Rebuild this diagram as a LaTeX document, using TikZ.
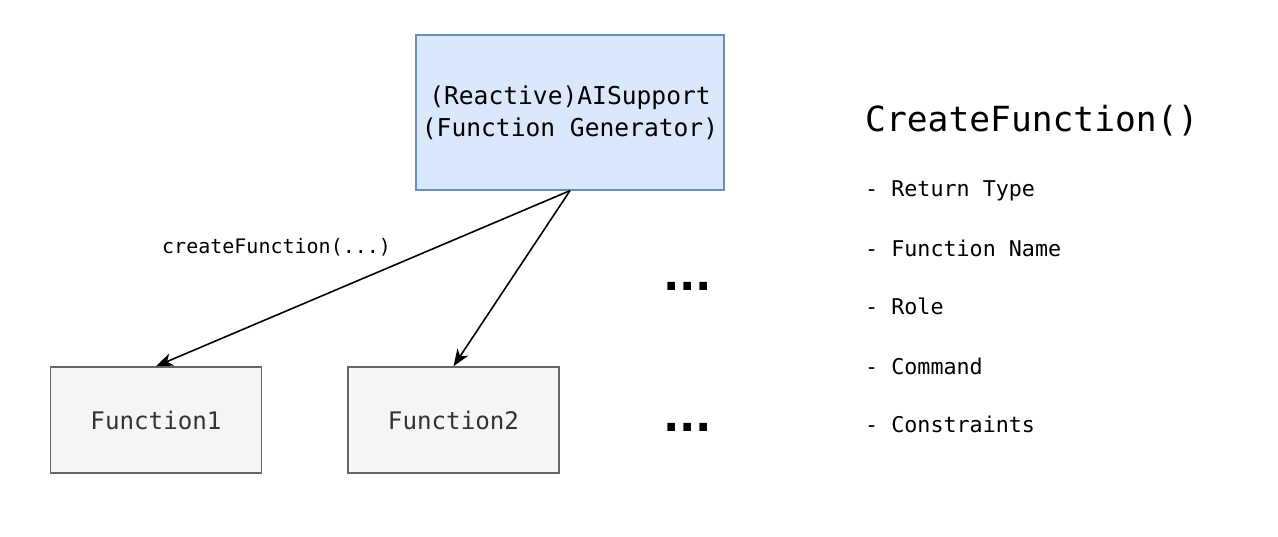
\documentclass[tikz,border=0pt]{standalone}
\usepackage{fontspec}
\setmonofont{DejaVu Sans Mono}
\newfontfamily\dotfont{DejaVu Sans}
\usetikzlibrary{arrows.meta}

\begin{document}
\begin{tikzpicture}[x=1pt,y=1pt,
  genbox/.style={draw=myblueline, fill=mybluefill, line width=1.3pt,
    minimum width=308, minimum height=155, align=center,
    font=\ttfamily\fontsize{24.6}{32}\selectfont},
  funcbox/.style={draw=mygrayline, fill=mygrayfill, line width=1.5pt,
    minimum width=211, minimum height=106, text=mytext,
    font=\ttfamily\fontsize{24.2}{29}\selectfont},
  call/.style={-{Stealth[length=17pt,width=13pt,inset=5pt]}, line width=1.6pt},
  listitem/.style={anchor=base west, inner sep=0pt,
    font=\ttfamily\fontsize{21.7}{26}\selectfont},
  dots/.style={anchor=base west, inner sep=0pt,
    font=\dotfont\bfseries\fontsize{43}{43}\selectfont}]

\definecolor{mybluefill}{HTML}{DAE8FC}
\definecolor{myblueline}{HTML}{6C8EBF}
\definecolor{mygrayfill}{HTML}{F5F5F5}
\definecolor{mygrayline}{HTML}{666666}
\definecolor{mytext}{HTML}{333333}

\useasboundingbox (0,0) rectangle (1278,537);

% generator and the functions it makes
\node[genbox] (gen) at (570,424.5) {(Reactive)AISupport\\(Function Generator)};
\node[funcbox] (fnone) at (156,117) {Function1};
\node[funcbox] (fntwo) at (453.5,117) {Function2};

\draw[call] (gen.south) -- (fnone.north);
\draw[call] (gen.south) -- (fntwo.north);

\node[anchor=base west, inner sep=0pt, font=\ttfamily\fontsize{20}{24}\selectfont]
  (calllabel) at (162,283) {createFunction(...)};

\node[dots] (dotsup) at (663,246) {...};
\node[dots] (dotsdown) at (663,105) {...};

% what createFunction asks for
\node[anchor=base west, inner sep=0pt, font=\ttfamily\fontsize{34.6}{40}\selectfont]
  (title) at (865,405) {CreateFunction()};

\foreach \txt/\y/\n in {Return Type/340/ret, Function Name/280/name,
    Role/222/role, Command/162/cmd, Constraints/104/cons}
  \node[listitem] (item\n) at (865,\y) {- \txt};

\end{tikzpicture}
\end{document}
